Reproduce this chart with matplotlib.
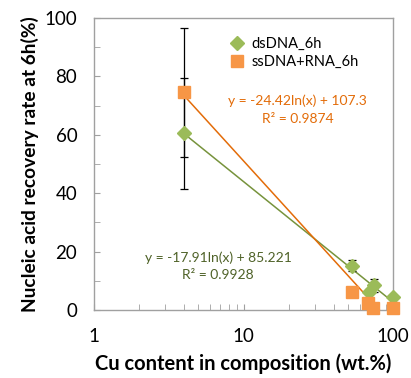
import numpy as np
import matplotlib
matplotlib.use("Agg")
import matplotlib.pyplot as plt
from matplotlib.ticker import LogLocator, NullFormatter, MultipleLocator

plt.rcParams['font.family'] = ['Lato', 'DejaVu Sans']

# dsDNA_6h
ds_x = [4, 53, 69, 75, 100]
ds_y = [60.5, 15.2, 6.3, 8.4, 4.6]
ds_err = [19.0, 1.8, 0.8, 2.3, 0.5]
# ssDNA+RNA_6h
ss_x = [4, 53, 68, 73, 100]
ss_y = [74.5, 6.2, 2.4, 0.7, 0.7]
ss_err = [22.0, 0.5, 0.5, 0.3, 0.3]

# log trendline coefficients (from chart labels)
ds_fit = (-17.91, 85.221)
ss_fit = (-24.42, 107.3)

green = '#9BBB59'
green_line = '#77933C'
green_txt = '#4F6228'
orange = '#F79646'
orange_line = '#E36C09'
orange_txt = '#E36C09'

fig = plt.figure(figsize=(4.11, 3.78), dpi=100)
ax = fig.add_axes([94/411, 1-310/378, (393-94)/411, (310-18)/378])

xf = np.logspace(np.log10(4), 2, 200)
ax.plot(xf, ds_fit[0]*np.log(xf) + ds_fit[1], color=green_line, lw=1.1, zorder=2)
ax.plot(xf, ss_fit[0]*np.log(xf) + ss_fit[1], color=orange_line, lw=1.1, zorder=2)

ax.errorbar(ds_x, ds_y, yerr=ds_err, fmt='none', ecolor='black', elinewidth=0.9,
            capsize=3, capthick=0.9, zorder=3)
ax.errorbar(ss_x, ss_y, yerr=ss_err, fmt='none', ecolor='black', elinewidth=0.9,
            capsize=3, capthick=0.9, zorder=3)
ax.plot(ds_x, ds_y, 'D', color=green, ms=7, ls='none', label='dsDNA_6h', zorder=4,
        clip_on=False)
ax.plot(ss_x, ss_y, 's', color=orange, ms=9, ls='none', label='ssDNA+RNA_6h', zorder=4,
        clip_on=False)

ax.set_xscale('log')
ax.set_xlim(1, 100)
ax.set_ylim(0, 100)
ax.yaxis.set_major_locator(MultipleLocator(20))
ax.yaxis.set_minor_locator(MultipleLocator(10))
ax.xaxis.set_minor_locator(LogLocator(base=10, subs=np.arange(2, 10)))
ax.xaxis.set_minor_formatter(NullFormatter())
ax.set_xticks([1, 10, 100])
ax.set_xticklabels(['1', '10', '100'])

for s in ax.spines.values():
    s.set_color('#A0A0A0')
    s.set_linewidth(1.0)
ax.tick_params(which='both', direction='in', color='#A0A0A0', length=4,
               labelsize=13.5, top=False, right=False)
ax.tick_params(axis='x', pad=13)
ax.tick_params(axis='y', pad=12)

ax.set_xlabel('Cu content in composition (wt.%)', fontsize=14.5, fontweight='bold', labelpad=6)
ax.set_ylabel('Nucleic acid recovery rate at 6h(%)', fontsize=13.8, fontweight='bold', labelpad=4)

ax.legend(loc='upper left', bbox_to_anchor=(0.42, 0.965), frameon=False, fontsize=10.5,
          handletextpad=0.4, labelspacing=0.3, handlelength=1.2, borderaxespad=0.2)

ax.text(0.68, 0.715, 'y = -24.42ln(x) + 107.3', transform=ax.transAxes, color=orange_txt,
        fontsize=10, ha='center', va='center')
ax.text(0.68, 0.655, 'R² = 0.9874', transform=ax.transAxes, color=orange_txt,
        fontsize=10, ha='center', va='center')
ax.text(0.415, 0.18, 'y = -17.91ln(x) + 85.221', transform=ax.transAxes, color=green_txt,
        fontsize=10, ha='center', va='center')
ax.text(0.415, 0.12, 'R² = 0.9928', transform=ax.transAxes, color=green_txt,
        fontsize=10, ha='center', va='center')

fig.savefig('out.png', dpi=100)
